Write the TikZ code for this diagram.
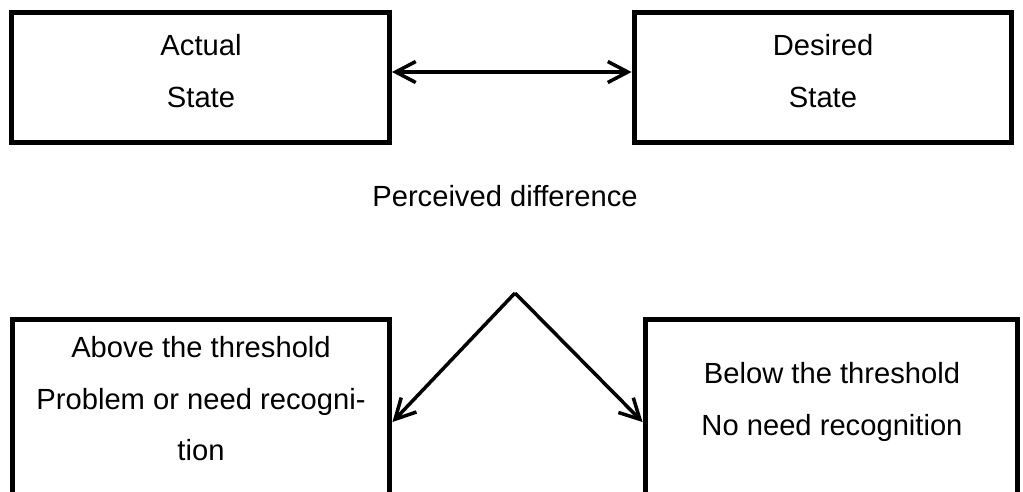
\documentclass[tikz,border=0pt]{standalone}
\usepackage{fontspec}
\setmainfont{Liberation Sans}
\usepackage{tikz}
\usetikzlibrary{arrows.meta,shapes}
\newcommand{\boxlw}{0.1cm}
\newcommand{\arrlw}{2pt}
\newcommand{\tipl}{0.4cm}
\newcommand{\tipw}{0.42cm}

\begin{document}
\begin{tikzpicture}[x=0.02cm,y=-0.02cm]
            %\draw[help lines] (0,0) grid (1023,491);
            \tikzset{StateBox/.style = {draw, rectangle, line width=\boxlw, inner sep=0pt, minimum width=7.56cm, minimum height=2.62cm}}
            \tikzset{StateText/.style = {align=center, inner sep=0pt, font=\fontsize{16.6pt}{29.3pt}\selectfont}}
            \tikzset{Conn/.style = {line width=\arrlw, -{Straight Barb[length=\tipl,width=\tipw]}}}
            \useasboundingbox (0,0) rectangle (1023,491);
            \clip (0,0) rectangle (1023,491);
            % the two states
            \node[StateBox] (actual) at (200.5,77.5) {};
            \node[StateBox] (desired) at (823,77.5) {};
            \node[StateText] (actualtxt) at (201,71) {Actual\\State};
            \node[StateText] (desiredtxt) at (823,71) {Desired\\State};
            \draw[line width=\arrlw, {Straight Barb[length=\tipl,width=\tipw]}-{Straight Barb[length=\tipl,width=\tipw]}]
                ([yshift=0.11cm]actual.east) -- ([yshift=0.11cm]desired.west);
            \node[StateText] (perceived) at (505,196) {Perceived difference};
            % threshold boxes, cut off at the bottom
            \node[StateBox, minimum height=4.12cm] (above) at (201,422) {};
            \node[StateBox, minimum height=4.12cm, minimum width=7.46cm] (below) at (831.5,422) {};
            \node[StateText] (abovetxt) at (201,399) {Above the threshold\\Problem or need recogni-\\tion};
            \node[StateText] (belowtxt) at (832,402) {Below the threshold\\No need recognition};
            \coordinate (apex) at (515,293);
            \draw[Conn] (apex) -- (above.east);
            \draw[Conn] (apex) -- (below.west);
        \end{tikzpicture}
\end{document}
